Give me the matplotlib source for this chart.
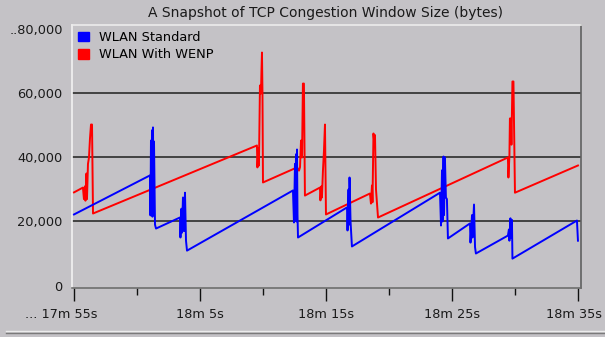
import matplotlib
matplotlib.use("Agg")
import matplotlib.pyplot as plt
from matplotlib.patches import Patch
from matplotlib.lines import Line2D
from matplotlib.transforms import ScaledTranslation
from matplotlib.ticker import FuncFormatter

# time in seconds (17m 55s = 1075 s), cwnd in bytes
std_t = [1075.00, 1081.03, 1081.07, 1081.11, 1081.15, 1081.19, 1081.23, 1081.27, 1081.31, 1081.35,
         1081.43, 1081.51, 1083.41, 1083.45, 1083.53, 1083.57, 1083.65, 1083.73, 1083.81, 1083.89,
         1083.97, 1092.38, 1092.46, 1092.54, 1092.58, 1092.62, 1092.66, 1092.70, 1092.74, 1092.78,
         1096.67, 1096.71, 1096.79, 1096.83, 1096.87, 1096.95, 1097.06, 1104.05, 1104.13, 1104.21,
         1104.25, 1104.33, 1104.37, 1104.44, 1104.52, 1104.60, 1104.68, 1106.43, 1106.47, 1106.59,
         1106.63, 1106.75, 1106.83, 1106.90, 1109.44, 1109.52, 1109.56, 1109.64, 1109.68, 1109.76,
         1109.80, 1114.92, 1115.00]
std_v = [22200, 34400, 21900, 45300, 24000, 48500, 21500, 49400, 26000, 45000,
         19000, 17800, 21250, 15000, 24000, 16500, 27500, 17000, 29000, 14000,
         10900, 29700, 19700, 38000, 21000, 41000, 20000, 42500, 22000, 15000,
         24400, 17200, 30000, 19000, 33750, 20000, 12200, 29000, 18750, 36000,
         20000, 40300, 22000, 40000, 27500, 27000, 14700, 19400, 13400, 22000,
         15000, 25300, 12000, 10000, 15600, 17500, 14000, 21000, 15000, 20500,
         8400, 20300, 14000]

wenp_t = [1075.00, 1075.71, 1075.79, 1075.87, 1075.91, 1075.99, 1076.03, 1076.11, 1076.19, 1076.27,
          1076.35, 1076.43, 1076.51, 1089.52, 1089.56, 1089.64, 1089.68, 1089.76, 1089.84, 1089.88,
          1089.92, 1089.96, 1090.00, 1092.70, 1092.86, 1092.94, 1093.02, 1093.10, 1093.17, 1093.25,
          1093.33, 1094.52, 1094.56, 1094.64, 1094.68, 1094.76, 1094.84, 1094.92, 1095.00, 1098.49,
          1098.57, 1098.65, 1098.69, 1098.77, 1098.85, 1098.89, 1098.97, 1099.13, 1109.44, 1109.48,
          1109.56, 1109.60, 1109.68, 1109.72, 1109.80, 1109.88, 1110.00, 1115.00]
wenp_v = [29100, 30600, 27000, 31000, 26500, 35000, 27000, 38000, 40000, 46000,
          50300, 50300, 22500, 43750, 36900, 43000, 37500, 62500, 60000, 67000,
          72800, 60000, 32200, 36900, 35900, 37000, 45300, 40000, 63100, 63100,
          28100, 30600, 26600, 31000, 27500, 35900, 42000, 50300, 22200, 28750,
          25600, 31250, 26000, 47500, 44000, 47000, 30000, 21250, 40000, 33750,
          40500, 52200, 52200, 44000, 63750, 63750, 29000, 37500]

x_major = [1075, 1085, 1095, 1105, 1115]
x_minor = [1080, 1090, 1100, 1110]
x_labels = ["... 17m 55s", "18m 5s", "18m 15s", "18m 25s", "18m 35s"]
y_ticks = [0, 20000, 40000, 60000, 80000]
grid_y = [20000, 40000, 60000]

bg = "#c4c2c6"
fs = 9.3

fig = plt.figure(figsize=(6.05, 3.37), dpi=100, facecolor=bg)
ax = fig.add_axes([0.1198, 0.1454, 0.8405, 0.7804], facecolor=bg)

ax.hlines(grid_y, 1074.88, 1115.24, colors="#383838", linewidth=1.3, zorder=1)
ax.plot(wenp_t, wenp_v, color="#ff0000", linewidth=1.4, zorder=3)
ax.plot(std_t, std_v, color="#0000ff", linewidth=1.4, zorder=4)

ax.set_xlim(1074.88, 1115.24)
ax.set_ylim(-780, 81400)

ax.set_xticks(x_major)
ax.set_xticklabels(x_labels)
ax.set_xticks(x_minor, minor=True)
ax.tick_params(axis="x", which="major", length=9.5, width=1, color="#101010",
               pad=5, labelsize=fs, labelcolor="#1a1a1a")
ax.tick_params(axis="x", which="minor", length=5, width=1, color="#101010")
ax.set_yticks(y_ticks)
ax.yaxis.set_major_formatter(FuncFormatter(
    lambda v, p: "..80,000" if v == 80000 else ("0" if v == 0 else f"{int(v):,}")))
ax.tick_params(axis="y", length=0, pad=7, labelsize=fs, labelcolor="#1a1a1a")

xl = ax.get_xticklabels()
xl[0].set_transform(xl[0].get_transform() + ScaledTranslation(-0.13, 0, fig.dpi_scale_trans))
xl[-1].set_transform(xl[-1].get_transform() + ScaledTranslation(-0.04, 0, fig.dpi_scale_trans))

ax.spines["left"].set_color("#f2f2f2")
ax.spines["top"].set_color("#ececec")
ax.spines["right"].set_color("#606060")
ax.spines["bottom"].set_color("#6e6e6e")
for s in ax.spines.values():
    s.set_linewidth(1.2)

handles = [Patch(facecolor="#0000ff", edgecolor="#0000ff"),
           Patch(facecolor="#ff0000", edgecolor="#ff0000")]
ax.legend(handles, ["WLAN Standard", "WLAN With WENP"], loc="upper left",
          bbox_to_anchor=(0, 1), borderaxespad=0.05, frameon=False, fontsize=fs,
          handlelength=0.85, handleheight=0.75, handletextpad=0.75, labelspacing=0.35)

fig.text(0.538, 1 - 13 / 337, "A Snapshot of TCP Congestion Window Size (bytes)",
         ha="center", va="center", fontsize=10, color="#1a1a1a")

# window frame lines along the bottom
fig.add_artist(Line2D([0.01, 1], [1 - 331 / 337] * 2, color="#ececec", linewidth=1))
fig.add_artist(Line2D([0.01, 1], [1 - 333 / 337] * 2, color="#7a7a7a", linewidth=1))

fig.savefig("out.png", dpi=100, facecolor=bg)
